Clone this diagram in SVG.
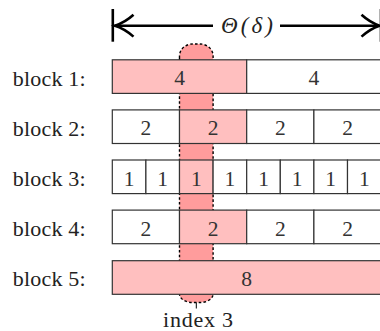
<svg xmlns="http://www.w3.org/2000/svg" width="380" height="331" viewBox="0 0 380 331">
<style>
.lbl{font-family:"Liberation Serif",serif;font-size:22px;fill:#222}
.num{font-family:"Liberation Serif",serif;font-size:21.5px;fill:#333;text-anchor:middle}
.c{stroke:#333;stroke-width:1.2;fill:#fff}
.p{fill:#ffbfbf}
.ar{fill:none;stroke:#000;stroke-width:2.6;stroke-linecap:butt}
</style>
<rect width="380" height="331" fill="#fff"/>
<g id="column">
<path d="M179.5,58 L179.5,56 A13,12 0 0 1 192.5,44 L200.1,44 A13,12 0 0 1 213.1,56 L213.1,294 A13,8.5 0 0 1 200.1,302.5 L192.5,302.5 A13,8.5 0 0 1 179.5,294 Z" fill="#ff9c9c" stroke="#000" stroke-width="1.4" stroke-dasharray="2.6 2.2"/>
</g>
<g id="labels">
<text class="lbl" x="12.7" y="86" textLength="73">block 1:</text>
<text class="lbl" x="12.7" y="136" textLength="73">block 2:</text>
<text class="lbl" x="12.7" y="186" textLength="73">block 3:</text>
<text class="lbl" x="12.7" y="236" textLength="73">block 4:</text>
<text class="lbl" x="12.7" y="286" textLength="73">block 5:</text>
</g>
<g id="block1">
<rect class="c p" x="112.3" y="59.8" width="134.4" height="33.6"/>
<rect class="c" x="246.7" y="59.8" width="134.4" height="33.6"/>
<text class="num" x="179.5" y="85.3">4</text>
<text class="num" x="313.9" y="85.3">4</text>
</g>
<g id="block2">
<rect class="c" x="112.3" y="109.9" width="67.2" height="33.6"/>
<rect class="c p" x="179.5" y="109.9" width="67.2" height="33.6"/>
<rect class="c" x="246.7" y="109.9" width="67.2" height="33.6"/>
<rect class="c" x="313.9" y="109.9" width="67.2" height="33.6"/>
<text class="num" x="145.9" y="135.4">2</text>
<text class="num" x="213.1" y="135.4">2</text>
<text class="num" x="280.3" y="135.4">2</text>
<text class="num" x="347.5" y="135.4">2</text>
</g>
<g id="block3">
<rect class="c" x="112.3" y="160" width="33.6" height="33.6"/>
<rect class="c" x="145.9" y="160" width="33.6" height="33.6"/>
<rect class="c p" x="179.5" y="160" width="33.6" height="33.6"/>
<rect class="c" x="213.1" y="160" width="33.6" height="33.6"/>
<rect class="c" x="246.7" y="160" width="33.6" height="33.6"/>
<rect class="c" x="280.3" y="160" width="33.6" height="33.6"/>
<rect class="c" x="313.9" y="160" width="33.6" height="33.6"/>
<rect class="c" x="347.5" y="160" width="33.6" height="33.6"/>
<text class="num" x="129.1" y="185.5">1</text>
<text class="num" x="162.7" y="185.5">1</text>
<text class="num" x="196.3" y="185.5">1</text>
<text class="num" x="229.9" y="185.5">1</text>
<text class="num" x="263.5" y="185.5">1</text>
<text class="num" x="297.1" y="185.5">1</text>
<text class="num" x="330.7" y="185.5">1</text>
<text class="num" x="364.3" y="185.5">1</text>
</g>
<g id="block4">
<rect class="c" x="112.3" y="210.1" width="67.2" height="33.6"/>
<rect class="c p" x="179.5" y="210.1" width="67.2" height="33.6"/>
<rect class="c" x="246.7" y="210.1" width="67.2" height="33.6"/>
<rect class="c" x="313.9" y="210.1" width="67.2" height="33.6"/>
<text class="num" x="145.9" y="235.6">2</text>
<text class="num" x="213.1" y="235.6">2</text>
<text class="num" x="280.3" y="235.6">2</text>
<text class="num" x="347.5" y="235.6">2</text>
</g>
<g id="block5">
<rect class="c p" x="112.3" y="260.7" width="268.8" height="33.6"/>
<text class="num" x="246.7" y="286.2">8</text>
</g>
<g id="index-label">
<text class="lbl" x="163" y="326.5" textLength="70">index 3</text>
</g>
<g id="connectors">
<line x1="196.3" y1="302.5" x2="196.3" y2="308.5" stroke="#000" stroke-width="1"/>
<line class="ar" x1="112.8" y1="9" x2="112.8" y2="41.7"/>
<line class="ar" x1="381" y1="9" x2="381" y2="41.7"/>
<line class="ar" x1="114.5" y1="25.7" x2="213" y2="25.7"/>
<line class="ar" x1="280" y1="25.7" x2="378.5" y2="25.7"/>
<path class="ar" d="M133.5,14.8 Q125,22.5 115,25.7 Q125,28.9 133.5,36.6"/>
<path class="ar" d="M361.5,14.8 Q370,22.5 379.5,25.7 Q370,28.9 361.5,36.6"/>
</g>
<g id="size-label">
<text x="221" y="33.3" font-family="Liberation Serif, serif" font-style="italic" font-size="23px" textLength="52" fill="#222">Θ(δ)</text>
</g>
</svg>
